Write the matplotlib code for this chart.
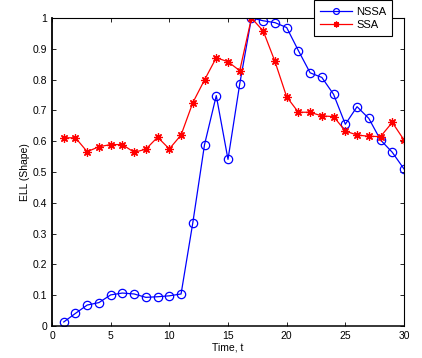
import numpy as np
import matplotlib
matplotlib.use('Agg')
import matplotlib.pyplot as plt

plt.rcParams['font.family'] = ['Liberation Sans', 'DejaVu Sans']

t = list(range(1, 31))
nssa = [0.013, 0.041, 0.068, 0.076, 0.101, 0.107, 0.104, 0.093, 0.095, 0.098,
        0.104, 0.335, 0.589, 0.748, 0.541, 0.786, 1.0, 0.991, 0.985, 0.969,
        0.894, 0.822, 0.807, 0.752, 0.655, 0.712, 0.674, 0.604, 0.564, 0.51]
ssa = [0.611, 0.611, 0.566, 0.582, 0.589, 0.589, 0.564, 0.574, 0.613, 0.575,
       0.62, 0.725, 0.799, 0.871, 0.858, 0.829, 1.0, 0.958, 0.859, 0.744,
       0.694, 0.694, 0.682, 0.68, 0.633, 0.62, 0.616, 0.615, 0.661, 0.604]

fig = plt.figure(figsize=(4.22, 3.58), dpi=100)
ax = fig.add_axes([52/422, 32/358, 352/422, 308/358])

ax.plot(t, nssa, color='#0000ff', lw=0.9, marker='o', ms=6, mfc='none',
        mec='#0000ff', mew=0.9, label='NSSA')
ax.plot(t, ssa, color='#ff0000', lw=0.9, marker=(8, 2, 0), ms=6,
        mec='#ff0000', mew=0.9, label='SSA')

ax.set_xlim(0, 30)
ax.set_ylim(0, 1)
ax.set_xticks(range(0, 31, 5))
ax.set_yticks(np.arange(0, 1.01, 0.1))
ax.set_yticklabels(['0', '0.1', '0.2', '0.3', '0.4', '0.5', '0.6', '0.7', '0.8', '0.9', '1'])
ax.tick_params(direction='in', top=True, right=True, labelsize=7.5, length=3, width=0.6)
for s in ax.spines.values():
    s.set_linewidth(0.8)
ax.spines['left'].set_linewidth(1.3)
ax.spines['bottom'].set_linewidth(1.1)

ax.set_xlabel('Time, t', fontsize=7.5, labelpad=1)
ax.set_ylabel('ELL (Shape)', fontsize=7.5, labelpad=2)

# legend sits above the top edge, as in the original
leg = ax.legend(loc='lower left', bbox_to_anchor=(0.744, 0.9416), fontsize=8,
                fancybox=False, framealpha=1, edgecolor='black',
                borderaxespad=0, handlelength=2.9, labelspacing=0.3,
                borderpad=0.55, handletextpad=0.35, markerscale=0.7)
leg.get_frame().set_linewidth(0.8)

fig.savefig('out.png', dpi=100)
